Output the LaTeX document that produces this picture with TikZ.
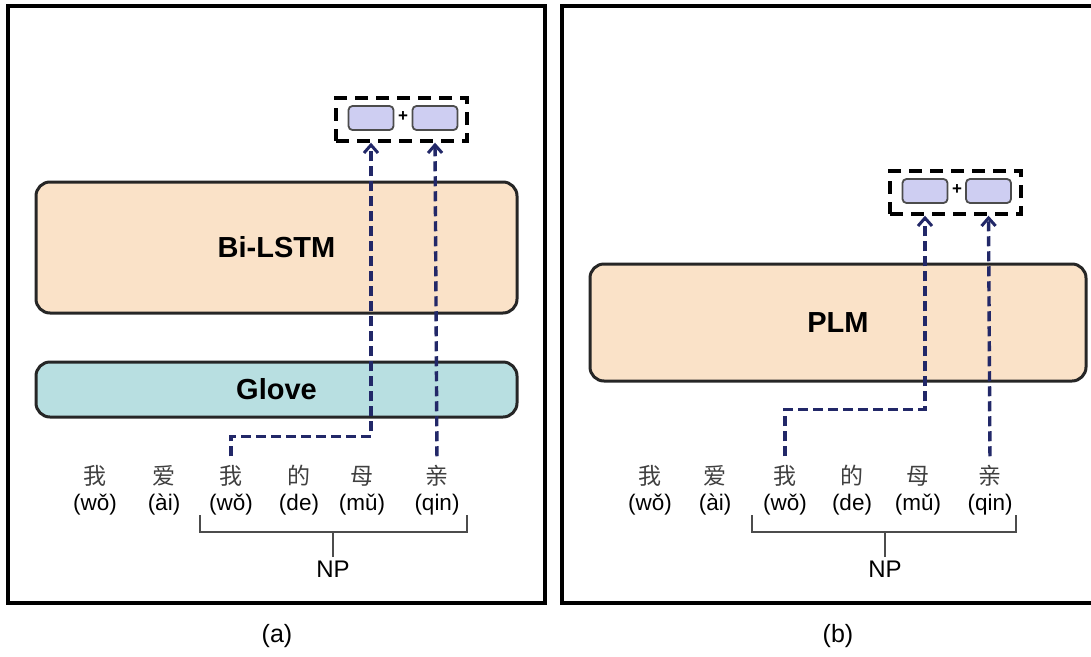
\documentclass[tikz,border=0pt]{standalone}
\usepackage{fontspec}
\setmainfont{Liberation Sans}
\newfontfamily\zhfont{Noto Sans CJK SC}
\usetikzlibrary{arrows.meta}

\definecolor{lstmfill}{RGB}{250,226,200}
\definecolor{glovefill}{RGB}{184,223,225}
\definecolor{embfill}{RGB}{206,206,242}
\definecolor{linkblue}{RGB}{34,40,104}

\tikzset{
  panel/.style={draw, line width=3.5pt},
  layer/.style={draw=black!85, line width=3pt, rounded corners=14pt,
    font=\fontsize{29}{31}\selectfont\bfseries},
  emb/.style={draw=black!70, line width=1.8pt, fill=embfill, rounded corners=4pt,
    minimum width=45pt, minimum height=24pt, inner sep=0pt},
  group/.style={draw, line width=3.4pt, dash pattern=on 13pt off 8pt,
    minimum width=131pt, minimum height=43pt},
  link/.style={linkblue, line width=3.4pt, dash pattern=on 10pt off 5pt, shorten <=8pt,
    -{Straight Barb[length=8pt,width=14pt,line width=3pt]}},
  zh/.style={font=\zhfont\fontsize{23}{25}\selectfont, text=black!75, inner sep=1pt},
  py/.style={font=\fontsize{22.5}{24}\selectfont, inner sep=1pt},
  bracket/.style={draw=black!70, line width=1.4pt},
}

\begin{document}
\begin{tikzpicture}[x=1pt,y=-1pt]
\useasboundingbox (0,0) rectangle (1091,656);

%panels
\draw[panel] (8,6) rectangle (545,603);
\draw[panel] (1096,6) -| (562,603) -- (1096,603);

%model (a)
\node[layer, fill=lstmfill, minimum width=481pt, minimum height=131pt] (lstm) at (276.5,247.5) {Bi-LSTM};
\node[layer, fill=glovefill, minimum width=481pt, minimum height=55pt] (glove) at (276.5,389.5) {Glove};
\node[group] (ga) at (401.5,119.5) {};
\node[emb] (ea1) at (371,118) {};
\node[emb] (ea2) at (435,118) {};
\node[font=\fontsize{17}{17}\selectfont\bfseries, inner sep=0pt] (pa) at (403,117) {+};

%sentence (a)
\foreach \x/\ch/\p [count=\i] in {95/我/wǒ,164/爱/ài,231/我/wǒ,299/的/de,362/母/mǔ,437/亲/qin}{
  \node[zh] (za\i) at (\x,476) {\ch};
  \node[py] (wa\i) at (\x,505) {(\p)};
}
\draw[link] (za3.north) -- ++(0,-28) -| (ea1 |- ga.south);
\draw[link] (za6.north) -- (ea2 |- ga.south);

%NP (a)
\node[font=\fontsize{24}{26}\selectfont] (npa) at (333,569) {NP};
\coordinate (bra) at (333,532);
\draw[bracket] (200,515) |- (bra) -| (467,515);
\draw[bracket] (npa.north) -- (bra);
\node[font=\fontsize{25}{27}\selectfont] (capa) at (277,636) {(a)};

%model (b)
\node[layer, fill=lstmfill, minimum width=496pt, minimum height=117pt] (plm) at (838,322.5) {PLM};
\node[group] (gb) at (955.5,192.5) {};
\node[emb] (eb1) at (925,191) {};
\node[emb] (eb2) at (988.5,191) {};
\node[font=\fontsize{17}{17}\selectfont\bfseries, inner sep=0pt] (pb) at (957,190) {+};

%sentence (b)
\foreach \x/\ch/\p [count=\i] in {650/我/wǒ,715/爱/ài,785/我/wǒ,852/的/de,918/母/mǔ,990/亲/qin}{
  \node[zh] (zb\i) at (\x,476) {\ch};
  \node[py] (wb\i) at (\x,505) {(\p)};
}
\draw[link] (zb3.north) -- ++(0,-55) -| (eb1 |- gb.south);
\draw[link] (zb6.north) -- (eb2 |- gb.south);

%NP (b)
\node[font=\fontsize{24}{26}\selectfont] (npb) at (885,569) {NP};
\coordinate (brb) at (885,532);
\draw[bracket] (752,515) |- (brb) -| (1016,515);
\draw[bracket] (npb.north) -- (brb);
\node[font=\fontsize{25}{27}\selectfont] (capb) at (838,636) {(b)};
\end{tikzpicture}
\end{document}
